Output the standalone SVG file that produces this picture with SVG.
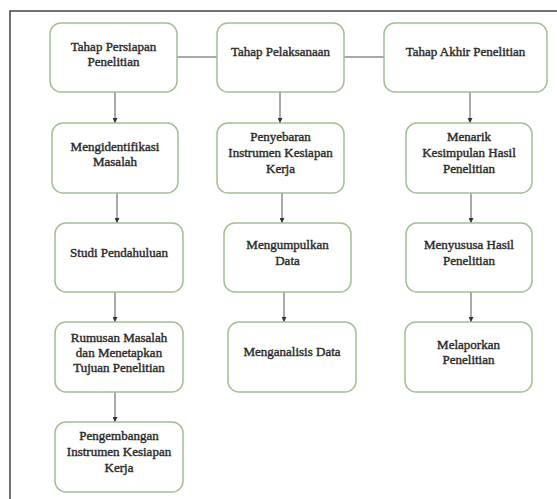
<svg xmlns="http://www.w3.org/2000/svg" width="557" height="499" viewBox="0 0 557 499">
<defs>
<marker id="ah" viewBox="0 0 10 10" refX="10" refY="5" markerWidth="5" markerHeight="5" orient="auto" markerUnits="userSpaceOnUse">
<path d="M0,0 L10,5 L0,10 z" fill="#333"/>
</marker>
<style>
.box{fill:#fff;stroke:#a3bf94;stroke-width:1.5}
.t{font-family:'Liberation Serif','Times New Roman',serif;font-size:13px;fill:#2a2a2a;stroke:#2a2a2a;stroke-width:0.4;text-anchor:middle}
.c{stroke:#555;stroke-width:1;fill:none}
.a{stroke:#555;stroke-width:1;fill:none;marker-end:url(#ah)}
</style>
</defs>
<rect width="557" height="499" fill="#fff"/>
<path d="M557,11 H10 V499" fill="none" stroke="#444" stroke-width="1.5"/>
<g id="connectors">
<path class="c" d="M177,57 H217"/>
<path class="c" d="M344,57 H384"/>
<path class="a" d="M115,92 V123"/>
<path class="a" d="M117,193 V223"/>
<path class="a" d="M115,292 V322"/>
<path class="a" d="M115,392 V422"/>
<path class="a" d="M280,92 V123"/>
<path class="a" d="M282,193 V223"/>
<path class="a" d="M284,292 V322"/>
<path class="a" d="M470,92 V123"/>
<path class="a" d="M471,193 V223"/>
<path class="a" d="M471,292 V322"/>
</g>
<g id="n1"><rect class="box" x="50" y="23" width="127" height="69" rx="11"/>
<text class="t" x="113.5" y="51">Tahap Persiapan</text><text class="t" x="113.5" y="66">Penelitian</text></g>
<g id="n2"><rect class="box" x="217" y="23" width="127" height="69" rx="11"/>
<text class="t" x="280.5" y="56">Tahap Pelaksanaan</text></g>
<g id="n3"><rect class="box" x="384" y="23" width="163" height="69" rx="11"/>
<text class="t" x="465.5" y="56">Tahap Akhir Penelitian</text></g>
<g id="n4"><rect class="box" x="52" y="123" width="126" height="70" rx="11"/>
<text class="t" x="115" y="151">Mengidentifikasi</text><text class="t" x="115" y="166">Masalah</text></g>
<g id="n5"><rect class="box" x="217" y="123" width="127" height="70" rx="11"/>
<text class="t" x="280.5" y="141">Penyebaran</text><text class="t" x="280.5" y="157">Instrumen Kesiapan</text><text class="t" x="280.5" y="173">Kerja</text></g>
<g id="n6"><rect class="box" x="406" y="123" width="126" height="70" rx="11"/>
<text class="t" x="469" y="141">Menarik</text><text class="t" x="469" y="157">Kesimpulan Hasil</text><text class="t" x="469" y="173">Penelitian</text></g>
<g id="n7"><rect class="box" x="55" y="223" width="128" height="69" rx="11"/>
<text class="t" x="119" y="257">Studi Pendahuluan</text></g>
<g id="n8"><rect class="box" x="224" y="223" width="127" height="69" rx="11"/>
<text class="t" x="287.5" y="249">Mengumpulkan</text><text class="t" x="287.5" y="265">Data</text></g>
<g id="n9"><rect class="box" x="406" y="223" width="126" height="69" rx="11"/>
<text class="t" x="469" y="249">Menyususa Hasil</text><text class="t" x="469" y="265">Penelitian</text></g>
<g id="n10"><rect class="box" x="55" y="322" width="128" height="70" rx="11"/>
<text class="t" x="119" y="342">Rumusan Masalah</text><text class="t" x="119" y="357">dan Menetapkan</text><text class="t" x="119" y="372">Tujuan Penelitian</text></g>
<g id="n11"><rect class="box" x="228" y="322" width="128" height="70" rx="11"/>
<text class="t" x="292" y="356">Menganalisis Data</text></g>
<g id="n12"><rect class="box" x="405" y="322" width="127" height="70" rx="11"/>
<text class="t" x="468.5" y="349">Melaporkan</text><text class="t" x="468.5" y="364">Penelitian</text></g>
<g id="n13"><rect class="box" x="55" y="422" width="128" height="70" rx="11"/>
<text class="t" x="119" y="440">Pengembangan</text><text class="t" x="119" y="456">Instrumen Kesiapan</text><text class="t" x="119" y="472">Kerja</text></g>
</svg>
